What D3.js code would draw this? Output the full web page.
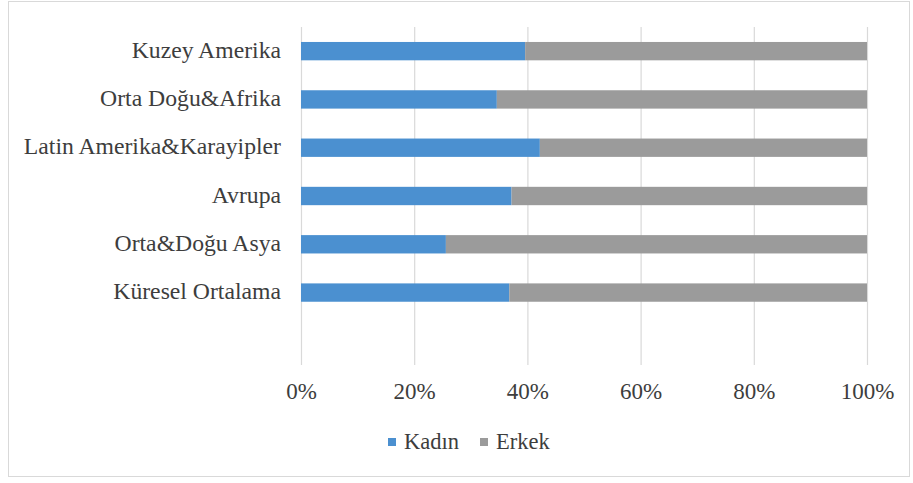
<!DOCTYPE html>
<html>
<head>
<meta charset="utf-8">
<script src="https://cdn.jsdelivr.net/npm/d3@7/dist/d3.min.js"></script>
<style>
  html, body { margin: 0; padding: 0; background: #fff; }
  svg { display: block; }
  text { font-family: "Liberation Serif", "DejaVu Serif", serif; fill: #3d3d3d; }
</style>
</head>
<body>
<svg id="chart" width="913" height="483"></svg>
<script>
const categories = ["Kuzey Amerika", "Orta Doğu&Afrika", "Latin Amerika&Karayipler", "Avrupa", "Orta&Doğu Asya", "Küresel Ortalama"];
const kadin = [39.6, 34.6, 42.2, 37.2, 25.6, 36.8];
const erkek = [60.4, 65.4, 57.8, 62.8, 74.4, 63.2];
const seriesNames = ["Kadın", "Erkek"];
const seriesColors = ["#4b90d0", "#9b9b9b"];
const tickValues = [0, 20, 40, 60, 80, 100];

const svg = d3.select("#chart");
const FONT = '"Liberation Serif", "DejaVu Serif", serif';

// outer border
svg.append("rect").attr("x", 8.5).attr("y", 1.5).attr("width", 901).attr("height", 475)
  .attr("fill", "#fff").attr("stroke", "#d9d9d9").attr("stroke-width", 1);

const plot = { left: 301, right: 867, top: 27, bottom: 365 };

const x = d3.scaleLinear().domain([0, 100]).range([plot.left, plot.right]);
// one empty slot is kept below the last category, as in the reference
const slots = d3.range(categories.length + 1);
const y = d3.scaleBand().domain(slots).range([plot.top, plot.bottom])
  .paddingInner(0.62).paddingOuter(0.31);

// gridlines
const grid = svg.append("g").attr("transform", `translate(0,${plot.bottom})`)
  .call(d3.axisBottom(x).tickValues(tickValues).tickSize(-(plot.bottom - plot.top)).tickFormat(""));
grid.select(".domain").remove();
grid.selectAll("line").attr("stroke", "#d9d9d9").attr("stroke-width", 1.2);

// stacked bars
const stackData = categories.map((c, i) => ({ i, Kadın: kadin[i], Erkek: erkek[i] }));
const stacked = d3.stack().keys(seriesNames)(stackData);
svg.append("g").selectAll("g").data(stacked).join("g")
  .attr("fill", (d, k) => seriesColors[k])
  .selectAll("rect").data(d => d).join("rect")
  .attr("x", d => x(d[0]))
  .attr("width", d => x(d[1]) - x(d[0]))
  .attr("y", d => y(d.data.i))
  .attr("height", y.bandwidth());

// category labels
const yAxis = svg.append("g").attr("transform", `translate(${plot.left - 20},0)`)
  .call(d3.axisLeft(y).tickValues(d3.range(categories.length)).tickSize(0).tickPadding(0)
    .tickFormat(i => categories[i]));
yAxis.select(".domain").remove();
yAxis.attr("font-family", FONT);
yAxis.selectAll("text").attr("font-size", 23.7).attr("fill", "#3d3d3d")
  .attr("font-family", FONT).attr("dy", "0.28em");

// x tick labels
const xAxis = svg.append("g").attr("transform", `translate(0,${plot.bottom})`)
  .call(d3.axisBottom(x).tickValues(tickValues).tickSize(0).tickPadding(0).tickFormat(d => d + "%"));
xAxis.select(".domain").remove();
xAxis.attr("font-family", FONT);
xAxis.selectAll("text").attr("font-size", 23).attr("fill", "#3d3d3d")
  .attr("font-family", FONT)
  .attr("y", 27).attr("dy", "0.3em");

// legend
const legendY = 442;
const legendItems = [{ name: seriesNames[0], color: seriesColors[0], x: 388 }, { name: seriesNames[1], color: seriesColors[1], x: 480 }];
const lg = svg.append("g").selectAll("g").data(legendItems).join("g")
  .attr("transform", d => `translate(${d.x},${legendY})`);
lg.append("rect").attr("x", 0).attr("y", -4).attr("width", 8).attr("height", 8).attr("fill", d => d.color);
lg.append("text").attr("x", 16).attr("y", 0).attr("dy", "0.3em")
  .attr("font-family", FONT).attr("font-size", 22.5).text(d => d.name);
</script>
</body>
</html>
